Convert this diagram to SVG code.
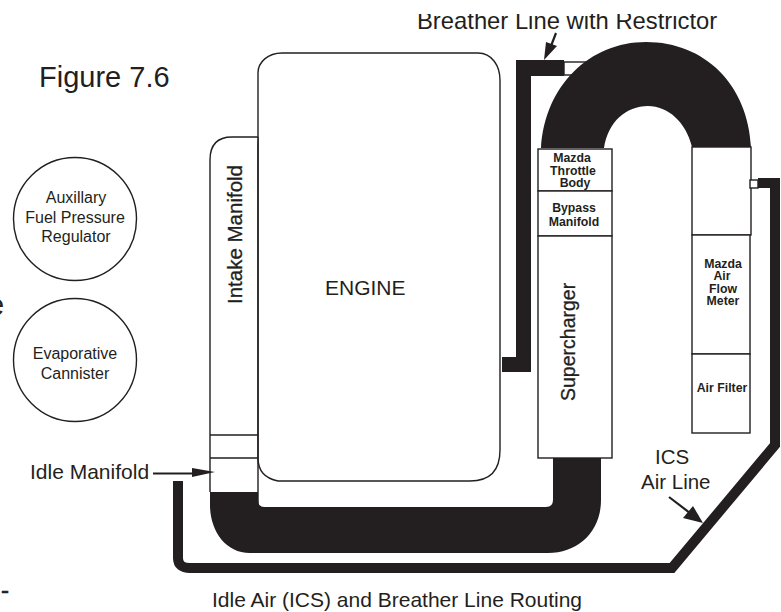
<svg xmlns="http://www.w3.org/2000/svg" width="781" height="612" viewBox="0 0 781 612">
<style>
text{font-family:"Liberation Sans",Arial,sans-serif;fill:#231f20}
.o{fill:#fff;stroke:#231f20;stroke-width:1.4}
.b{fill:#231f20;stroke:none}
.l{fill:none;stroke:#231f20;stroke-width:10}
.a{fill:none;stroke:#231f20;stroke-width:2.2}
.h{fill:#231f20}
.s{font-size:12.3px;text-anchor:middle;font-weight:bold}
.c{font-size:16px;text-anchor:middle}
.m{font-size:20.5px;stroke:#231f20;stroke-width:.3}
.n{font-size:19.500px}
</style>
<rect width="781" height="612" fill="#fff"/>
<text x="39" y="87" font-size="29">Figure 7.6</text>
<text x="-12" y="315" font-size="29">e</text>
<text x="1" y="598" font-size="24" stroke="#231f20" stroke-width=".6">-</text>
<text x="417" y="29" font-size="23.8" id="t-breather">Breather Line with Restrictor</text>
<rect x="400" y="0" width="340" height="14" fill="#fff"/>
<g id="engine"><path class="o" d="M282 53H478C492 53 500 66 500 80V450Q500 481 470 481H278Q258 477 258 458V73C258 62 268 53 282 53Z"/><text x="325" y="295" font-size="21">ENGINE</text></g>
<g id="intake-manifold"><path class="o" d="M258 137H232Q210 137 210 160V492M258 137V507"/><path class="o" d="M210 435H258M210 458H258" fill="none"/>
<text class="m" transform="translate(242 304) rotate(-90)">Intake Manifold</text></g>
<g id="throttle-body"><rect class="o" x="538" y="149" width="74" height="42"/><text class="s" y="162"><tspan x="572">Mazda</tspan><tspan x="573" dy="12.5">Throttle</tspan><tspan x="575" dy="12.5">Body</tspan></text></g>
<g id="bypass-manifold"><rect class="o" x="538" y="191" width="74" height="45"/><text class="s" y="212"><tspan x="574">Bypass</tspan><tspan x="574" dy="14">Manifold</tspan></text></g>
<g id="supercharger"><rect class="o" x="538" y="236" width="74" height="222"/><text class="m n" transform="translate(575 401) rotate(-90)">Supercharger</text></g>
<g id="air-flow-meter"><rect class="o" x="692" y="147" width="59" height="88"/><rect class="o" x="692" y="235" width="58" height="119"/><text class="s" y="268"><tspan x="723">Mazda</tspan><tspan x="722" dy="12.4">Air</tspan><tspan x="723" dy="12.4">Flow</tspan><tspan x="723" dy="12.4">Meter</tspan></text></g>
<g id="air-filter"><rect class="o" x="692" y="354" width="58" height="79"/><text class="s" x="722" y="392">Air Filter</text></g>
<g id="aux-regulator"><circle class="o" cx="75" cy="219" r="61.5"/><text class="c" y="203"><tspan x="76">Auxillary</tspan><tspan x="75" dy="19.5">Fuel Pressure</tspan><tspan x="76" dy="19.5">Regulator</tspan></text></g>
<g id="cannister"><circle class="o" cx="75" cy="360" r="61.5"/><text class="c" y="359"><tspan x="75">Evaporative</tspan><tspan x="75" dy="19.5">Cannister</tspan></text></g>
<g id="connectors">
<path class="b" d="M210 492H258V500Q258 507 264 507H546Q553 507 553 500V458H601V500C601 532 578 553 548 553H250C225 553 210 530 210 505Z"/>
<rect class="o" x="564" y="62" width="28" height="13" stroke-width="1"/>
<path class="b" d="M541 148C545 85 590 42 646 42C705 42 748 85 751 147H692C686 122 668 106 648 106C626 106 608 122 604 148Z"/>
<path class="b" d="M516 60H564V76H531V372H502V357H516Z"/>
<path class="l" d="M178 481V558Q178 568 190 568H672L775 445V183H758"/>
<rect class="o" x="750" y="180" width="8" height="8" stroke-width="1"/>
<path class="a" d="M556 33L551 46"/><path class="h" d="M544 60L546 42L557 46Z"/>
<path class="a" d="M153 473.500H194"/><path class="h" d="M215 472L192 468V477Z"/>
<path class="a" d="M669 497L690 513"/><path class="h" d="M703 523L683 518L693 506Z"/>
</g>
<text x="30" y="479" font-size="21">Idle Manifold</text>
<text x="655" y="464" font-size="20.500">ICS</text><text x="641" y="489" font-size="20.500">Air Line</text>
<text x="212" y="607" font-size="21">Idle Air (ICS) and Breather Line Routing</text>
</svg>
